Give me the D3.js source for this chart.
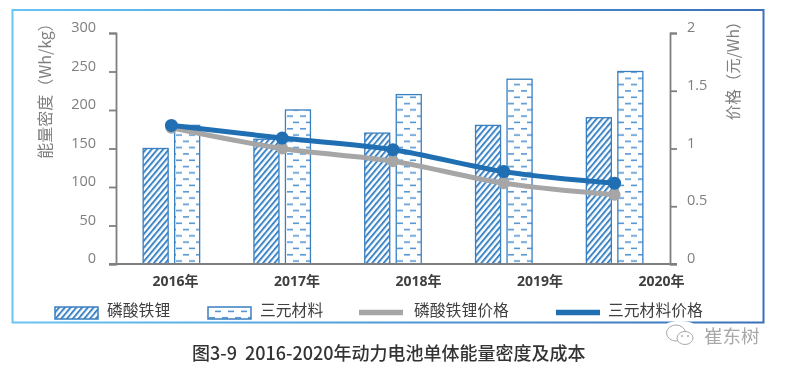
<!DOCTYPE html>
<html>
<head>
<meta charset="utf-8">
<script src="https://cdn.jsdelivr.net/npm/d3@7"></script>
<style>
html, body { margin: 0; padding: 0; background: #fff; }
svg { display: block; filter: blur(0.35px); }
</style>
</head>
<body>
<script>
var years = ['2016年', '2017年', '2018年', '2019年', '2020年'];
var barNames = ['磷酸铁锂', '三元材料'];
var lineNames = ['磷酸铁锂价格', '三元材料价格'];
var lfpDensity = [150, 162, 170, 180, 190];
var ncmDensity = [180, 200, 220, 240, 250];
var lfpPrice = [1.18, 1.0, 0.89, 0.7, 0.6];
var ncmPrice = [1.2, 1.09, 0.99, 0.8, 0.7];
var densityTicks = [0, 50, 100, 150, 200, 250, 300];
var priceTicks = [0, 0.5, 1, 1.5, 2];

var width = 785;
var height = 369;
var plot = { left: 116, right: 670, top: 33, bottom: 264 };
var gray = '#7f7f7f';
var dark = '#404040';
var blue = '#1f6fb2';
var lineGray = '#a6a6a6';
var cjk = '"Noto Sans CJK SC", "Noto Sans", sans-serif';
var num = '"Open Sans", "Noto Sans CJK SC", sans-serif';

var svg = d3.select('body').append('svg')
    .attr('width', width)
    .attr('height', height);

var defs = svg.append('defs');

var frameGrad = defs.append('linearGradient').attr('id', 'frameGrad');
frameGrad.append('stop').attr('offset', '0%').attr('stop-color', '#68c4f2');
frameGrad.append('stop').attr('offset', '100%').attr('stop-color', '#3a70b8');

// diagonal hatch for the first bar series
var hatch = defs.append('pattern')
    .attr('id', 'hatch')
    .attr('patternUnits', 'userSpaceOnUse')
    .attr('width', 4.4)
    .attr('height', 6)
    .attr('patternTransform', 'rotate(40)');
hatch.append('rect').attr('width', 4.4).attr('height', 6).attr('fill', '#fff');
hatch.append('rect').attr('width', 2).attr('height', 6).attr('fill', '#3f86c6');

// staggered dashes for the second one
var dashes = defs.append('pattern')
    .attr('id', 'dashes')
    .attr('patternUnits', 'userSpaceOnUse')
    .attr('width', 13)
    .attr('height', 12.6);
dashes.append('rect').attr('width', 13).attr('height', 12.6).attr('fill', '#fff');
dashes.append('rect').attr('x', 1).attr('y', 2).attr('width', 6).attr('height', 1.5).attr('fill', '#4a90d0');
dashes.append('rect').attr('x', 7).attr('y', 8.3).attr('width', 6).attr('height', 1.5).attr('fill', '#4a90d0');

var barFill = { '磷酸铁锂': 'url(#hatch)', '三元材料': 'url(#dashes)' };
var lineColor = { '磷酸铁锂价格': lineGray, '三元材料价格': blue };

// outer frame
svg.append('rect')
    .attr('x', 12.5)
    .attr('y', 10)
    .attr('width', 751)
    .attr('height', 312.5)
    .attr('fill', 'none')
    .attr('stroke', 'url(#frameGrad)')
    .attr('stroke-width', 2);

var x0 = d3.scaleBand()
    .domain(years)
    .range([plot.left, plot.right])
    .paddingInner(0.49)
    .paddingOuter(0.245);

var x1 = d3.scaleBand()
    .domain(barNames)
    .range([0, x0.bandwidth()])
    .paddingInner(0.206);

var yDensity = d3.scaleLinear().domain([0, 300]).range([plot.bottom, plot.top]);
var yPrice = d3.scaleLinear().domain([0, 2]).range([plot.bottom, plot.top]);

// the year labels sit on their own wider spacing in the source picture
var xLabel = d3.scalePoint().domain(years).range([175, 661]);

var barSeries = [
    { name: barNames[0], values: lfpDensity },
    { name: barNames[1], values: ncmDensity }
];

svg.selectAll('g.series')
    .data(barSeries)
    .enter().append('g')
    .attr('class', 'series')
    .each(function(s) {
        d3.select(this).selectAll('rect')
            .data(s.values)
            .enter().append('rect')
            .attr('x', function(d, i) { return x0(years[i]) + x1(s.name); })
            .attr('y', function(d) { return yDensity(d); })
            .attr('width', x1.bandwidth())
            .attr('height', function(d) { return plot.bottom - yDensity(d); })
            .attr('fill', barFill[s.name])
            .attr('stroke', '#3a7fbf')
            .attr('stroke-width', 1.3);
    });

var leftAxis = d3.axisLeft(yDensity)
    .tickValues(densityTicks)
    .tickSize(7)
    .tickPadding(13);

var rightAxis = d3.axisRight(yPrice)
    .tickValues(priceTicks)
    .tickFormat(function(d) { return d; })
    .tickSize(7)
    .tickPadding(10);

var styleAxis = function(g) {
    g.selectAll('path, line').attr('stroke', gray).attr('stroke-width', 1.8);
    g.selectAll('text')
        .attr('fill', gray)
        .attr('font-family', num)
        .attr('font-size', '14.5px')
        .attr('dy', '-.1em');
};

svg.append('g')
    .attr('transform', 'translate(' + plot.left + ',0)')
    .call(leftAxis)
    .call(styleAxis);

svg.append('g')
    .attr('transform', 'translate(' + plot.right + ',0)')
    .call(rightAxis)
    .call(styleAxis);

var bottomAxis = d3.axisBottom(xLabel).tickSize(0).tickPadding(12);

var xAxis = svg.append('g')
    .attr('transform', 'translate(0,' + plot.bottom + ')')
    .call(bottomAxis);

xAxis.select('.domain')
    .attr('d', 'M' + (plot.left - 7) + ',0H' + (plot.right + 7))
    .attr('stroke', gray)
    .attr('stroke-width', 2.2);

xAxis.selectAll('text')
    .attr('fill', dark)
    .attr('font-family', num)
    .attr('font-weight', 'bold')
    .attr('font-size', '14px');

var line = d3.line()
    .x(function(d, i) { return x0(years[i]) + x0.bandwidth() / 2; })
    .y(function(d) { return yPrice(d); })
    .curve(d3.curveMonotoneX);

var lineSeries = [
    { name: lineNames[0], values: lfpPrice, r: 6 },
    { name: lineNames[1], values: ncmPrice, r: 6.5 }
];

lineSeries.forEach(function(s) {
    svg.append('path')
        .datum(s.values)
        .attr('fill', 'none')
        .attr('stroke', lineColor[s.name])
        .attr('stroke-width', 5)
        .attr('d', line);

    svg.append('g').selectAll('circle')
        .data(s.values)
        .enter().append('circle')
        .attr('cx', function(d, i) { return x0(years[i]) + x0.bandwidth() / 2; })
        .attr('cy', function(d) { return yPrice(d); })
        .attr('r', s.r)
        .attr('fill', lineColor[s.name]);
});

// axis titles
svg.append('text')
    .attr('transform', 'translate(44,87) rotate(-90)')
    .attr('text-anchor', 'middle')
    .attr('dominant-baseline', 'central')
    .attr('fill', gray)
    .attr('font-family', cjk)
    .attr('font-size', '16px')
    .text('能量密度（Wh/kg）');

svg.append('text')
    .attr('transform', 'translate(732,67) rotate(-90)')
    .attr('text-anchor', 'middle')
    .attr('dominant-baseline', 'central')
    .attr('fill', gray)
    .attr('font-family', cjk)
    .attr('font-size', '15.5px')
    .text('价格（元/Wh）');

// legend
var legendBars = [
    { name: barNames[0], x: 55, textX: 107 },
    { name: barNames[1], x: 208, textX: 260 }
];
var legendLines = [
    { name: lineNames[0], x: 359, textX: 414 },
    { name: lineNames[1], x: 556, textX: 608 }
];

var legendText = function(sel) {
    sel.attr('x', function(d) { return d.textX; })
        .attr('y', 309)
        .attr('dominant-baseline', 'central')
        .attr('fill', dark)
        .attr('font-family', cjk)
        .attr('font-size', '15.8px')
        .text(function(d) { return d.name; });
};

svg.selectAll('rect.key')
    .data(legendBars)
    .enter().append('rect')
    .attr('class', 'key')
    .attr('x', function(d) { return d.x; })
    .attr('y', 307)
    .attr('width', 43)
    .attr('height', 12)
    .attr('fill', function(d) { return barFill[d.name]; })
    .attr('stroke', '#3a7fbf')
    .attr('stroke-width', 1.5);

svg.selectAll('line.key')
    .data(legendLines)
    .enter().append('line')
    .attr('class', 'key')
    .attr('x1', function(d) { return d.x; })
    .attr('x2', function(d) { return d.x + 44; })
    .attr('y1', 312.5)
    .attr('y2', 312.5)
    .attr('stroke', function(d) { return lineColor[d.name]; })
    .attr('stroke-width', 5.5);

svg.selectAll('text.keyBar').data(legendBars).enter().append('text').attr('class', 'keyBar').call(legendText);
svg.selectAll('text.keyLine').data(legendLines).enter().append('text').attr('class', 'keyLine').call(legendText);

// caption
svg.append('text')
    .attr('x', 192)
    .attr('y', 352)
    .attr('dominant-baseline', 'central')
    .attr('fill', '#333')
    .attr('font-family', cjk)
    .attr('font-weight', 500)
    .attr('font-size', '18px')
    .attr('xml:space', 'preserve')
    .text('图3-9  2016-2020年动力电池单体能量密度及成本');

// watermark, the frame is wiped out behind the icon
var mark = svg.append('g');
mark.append('ellipse').attr('cx', 680).attr('cy', 325).attr('rx', 14).attr('ry', 4).attr('fill', '#fff');
mark.append('ellipse').attr('cx', 676).attr('cy', 333).attr('rx', 9.5).attr('ry', 8)
    .attr('fill', '#fff').attr('stroke', '#a8a8a8').attr('stroke-width', 1);
mark.append('ellipse').attr('cx', 685).attr('cy', 338).attr('rx', 8).attr('ry', 6.5)
    .attr('fill', '#fff').attr('stroke', '#a8a8a8').attr('stroke-width', 1);
mark.append('circle').attr('cx', 682).attr('cy', 336).attr('r', 1).attr('fill', '#a8a8a8');
mark.append('circle').attr('cx', 688).attr('cy', 336).attr('r', 1).attr('fill', '#a8a8a8');
mark.append('text')
    .attr('x', 704)
    .attr('y', 335)
    .attr('dominant-baseline', 'central')
    .attr('fill', '#a8a8a8')
    .attr('font-family', cjk)
    .attr('font-size', '18.5px')
    .text('崔东树');
</script>
</body>
</html>
